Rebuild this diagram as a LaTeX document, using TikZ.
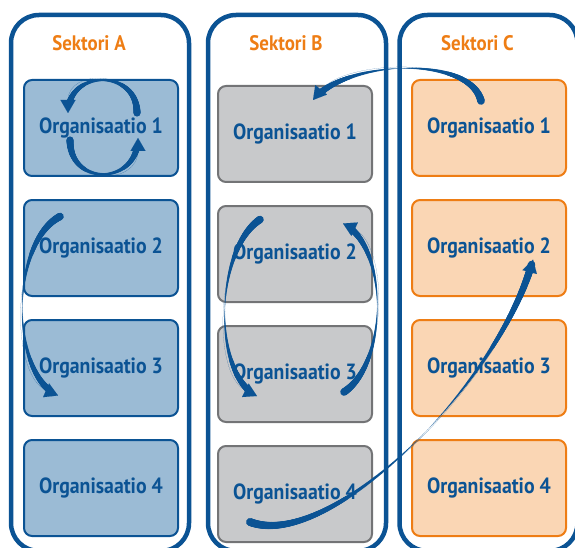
\documentclass[tikz,border=0pt]{standalone}
\usepackage{fontspec}
\newfontfamily\orgfont{PT Sans}[FakeStretch=0.9]
\usetikzlibrary{arrows.meta, positioning, decorations.markings}

\definecolor{deepblue}{HTML}{0B5394}
\definecolor{sectorange}{HTML}{EE7D14}
\definecolor{fillA}{HTML}{9BBBD5}
\definecolor{fillB}{HTML}{C8C9CB}
\definecolor{lineB}{HTML}{737476}
\definecolor{fillC}{HTML}{FAD6B4}

\begin{document}
\begin{tikzpicture}[
    x=1pt, y=-1pt,
    sector/.style={draw=deepblue, line width=4.5pt, rounded corners=28pt, minimum width=178pt, minimum height=536pt},
    sectitle/.style={font=\orgfont\bfseries\fontsize{21}{21}\selectfont, text=sectorange, inner sep=0pt},
    org/.style={rounded corners=8pt, line width=2pt, minimum width=154pt, minimum height=96pt, font=\orgfont\bfseries\fontsize{22}{22}\selectfont, text=deepblue},
    orgA/.style={org, draw=deepblue, fill=fillA},
    orgB/.style={org, draw=lineB, fill=fillB},
    orgC/.style={org, draw=sectorange, fill=fillC},
    % tapered flow arrow: thick at both ends, thin in the middle
    flow/.style 2 args={
      postaction={decorate, decoration={markings,
        mark=between positions 0pt and -11pt step 0.6pt with {
          \pgfmathsetmacro\flowpos{(\pgfkeysvalueof{/pgf/decoration/mark info/sequence number}-1)*0.6/\pgfdecoratedpathlength}
          \pgfmathsetmacro\flowrad{#1+(#2-#1)*abs(2*\flowpos-1)^1.1}
          \fill[deepblue] (0pt,0pt) circle[radius=\flowrad pt];
        }}},
      postaction={draw=deepblue, line width=0.01pt, -{Triangle[length=13pt, width=15pt]}}
    },
    node distance=22pt,
  ]
  \useasboundingbox (0,0) rectangle (575,548);
  \clip (0,0) rectangle (575,548);

  \node[sector] (secA) at (100,283) {};
  \node[sector] (secB) at (297,283) {};
  \node[sector] (secC) at (488.5,283) {};
  \node[sectitle] (titA) at ([shift={(-11,30)}]secA.north) {Sektori A};
  \node[sectitle] (titB) at ([shift={(-11,30)}]secB.north) {Sektori B};
  \node[sectitle] (titC) at ([shift={(-11,30)}]secC.north) {Sektori C};

  \node[orgA] (a1) at (101,128) {Organisaatio 1};
  \node[orgA, below=of a1] (a2) {Organisaatio 2};
  \node[orgA, below=of a2] (a3) {Organisaatio 3};
  \node[orgA, below=of a3] (a4) {Organisaatio 4};

  \node[orgB] (b1) at (295,134) {Organisaatio 1};
  \node[orgB, below=of b1] (b2) {Organisaatio 2};
  \node[orgB, below=of b2] (b3) {Organisaatio 3};
  \node[orgB, below=of b3] (b4) {Organisaatio 4};

  \node[orgC] (c1) at (489,128) {Organisaatio 1};
  \node[orgC, below=of c1] (c2) {Organisaatio 2};
  \node[orgC, below=of c2] (c3) {Organisaatio 3};
  \node[orgC, below=of c3] (c4) {Organisaatio 4};

  % loop inside a1
  \path[flow={1.2}{3.6}] ([shift={(36,-15)}]a1.center) .. controls +(0,-44) and +(0,-44) .. ([shift={(-33,-15)}]a1.center);
  \path[flow={1.2}{3.6}] ([shift={(-31,12)}]a1.center) .. controls +(0,47) and +(0,47) .. ([shift={(37,10)}]a1.center);
  % a2 -> a3
  \path[flow={0.25}{3.8}] ([shift={(-41,-31.5)}]a2.center) .. controls +(-50,26) and +(-48,-21) .. ([shift={(-43,27.5)}]a3.center);
  % b2 <-> b3
  \path[flow={0.25}{3.8}] ([shift={(-35,-34.5)}]b2.center) .. controls +(-45,30) and +(-45,-22) .. ([shift={(-38,22)}]b3.center);
  \path[flow={0.25}{3.8}] ([shift={(49,18)}]b3.center) .. controls +(45,-30) and +(45,22) .. ([shift={(48,-30.5)}]b2.center);
  % c1 -> b1, b4 -> c2
  \path[flow={0.25}{3.8}] ([shift={(-8,-27)}]c1.center) .. controls +(-11,-46) and +(32,-40) .. ([shift={(18,-34)}]b1.center);
  \path[flow={0.2}{4.0}] ([shift={(-45,28)}]b4.center) .. controls +(80,30) and +(-33,123) .. ([shift={(44,11.5)}]c2.center);
\end{tikzpicture}
\end{document}
